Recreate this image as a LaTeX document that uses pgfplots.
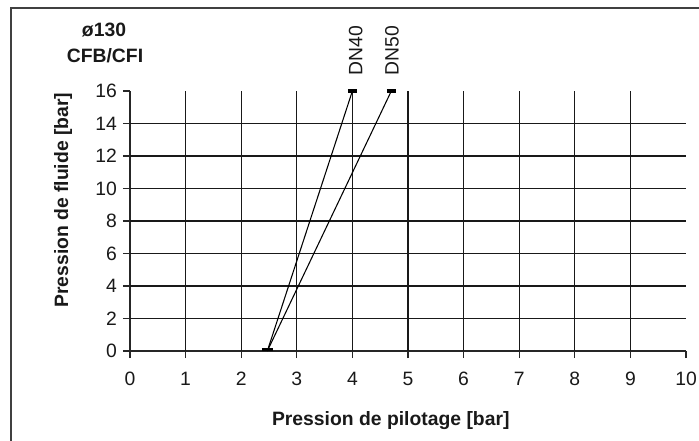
\documentclass[border=0pt]{standalone}
\usepackage{fontspec}
\setmainfont{Liberation Sans}
\usepackage{pgfplots}
\pgfplotsset{compat=1.18}
\begin{document}
\begin{tikzpicture}
\useasboundingbox (0,0) rectangle (524.25pt,330pt);
\draw[line width=1.3pt, black!75] (8.25pt,-20pt) -- (8.25pt,324pt) -- (560pt,324pt);
\node[anchor=base, font=\bfseries\fontsize{14.5}{17}\selectfont, text=black!90] at (78pt,302.25pt) {ø130};
\node[anchor=base, font=\bfseries\fontsize{14.5}{17}\selectfont, text=black!90] at (78.75pt,282.75pt) {CFB/CFI};
\begin{axis}[
  at={(97.5pt,66.75pt)}, anchor=south west,
  scale only axis, width=417pt, height=195pt,
  xmin=0, xmax=10, ymin=0, ymax=16,
  axis x line*=bottom, axis y line*=left,
  axis line style={-, black!85, line width=0.9pt},
  xtick={0,...,10}, ytick={0,2,...,16},
  tick align=outside, major tick length=5.25pt,
  tick style={black!85, line width=0.9pt},
  extra x ticks={1,...,9}, extra x tick labels={,,,,,,,,},
  extra y ticks={2,4,...,14}, extra y tick labels={,,,,,,},
  extra tick style={grid=major, major tick length=0pt},
  grid style={black!90, line width=1pt},
  ticklabel style={font=\fontsize{14.5}{17}\selectfont, text=black!90},
  xticklabel style={yshift=-7pt},
  yticklabel style={xshift=-1pt},
  /pgf/number format/assume math mode=true,
  xlabel={Pression de pilotage [bar]},
  ylabel={Pression de fluide [bar]},
  label style={font=\bfseries\fontsize{14.5}{17}\selectfont, text=black!90},
  xlabel style={at={(axis description cs:0.469,-0.285)}, anchor=base},
  ylabel style={at={(axis description cs:-0.1115,0.58)}, anchor=base},
  clip=false,
]
\addplot[black, line width=0.8pt] coordinates {(2.47,0) (4.0,16)};
\addplot[black, line width=0.8pt] coordinates {(2.47,0) (4.7,16)};
\addplot[black, line width=2.5pt] coordinates {(3.92,16) (4.08,16)};
\addplot[black, line width=2.5pt] coordinates {(4.62,16) (4.78,16)};
\addplot[black, line width=2.5pt] coordinates {(2.37,0.1) (2.57,0.1)};
\node[rotate=90, anchor=west, inner sep=0pt, font=\fontsize{14.5}{17}\selectfont, text=black!90] at (axis cs:4.06,16.95) {DN40};
\node[rotate=90, anchor=west, inner sep=0pt, font=\fontsize{14.5}{17}\selectfont, text=black!90] at (axis cs:4.71,16.95) {DN50};
\end{axis}
\end{tikzpicture}
\end{document}
